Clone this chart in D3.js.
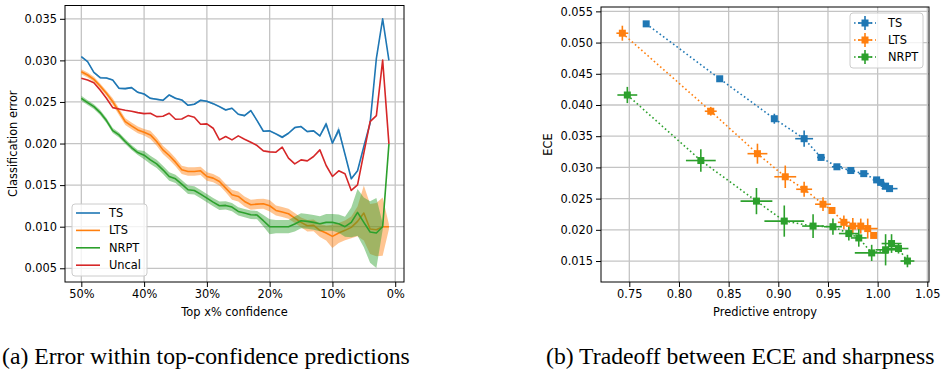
<!DOCTYPE html>
<html>
<head>
<meta charset="utf-8">
<script src="https://cdn.jsdelivr.net/npm/d3@7"></script>
<style>
  body { margin: 0; background: #fff; }
  text { font-family: "DejaVu Sans", sans-serif; }
</style>
</head>
<body>
<div class="canvas"></div>
<script>
// ---- data: (a) error within top-confidence predictions ----
const topPct = [50, 49, 48, 47, 46, 45, 44, 43, 42, 41, 40, 39, 38, 37, 36, 35, 34, 33, 32, 31,
    30, 29, 28, 27, 26, 25, 24, 23, 22, 21, 20, 19, 18, 17, 16, 15, 14, 13, 12, 11,
    10, 9, 8, 7, 6, 5, 4, 3, 2, 1];

const tsErr = [0.03044, 0.02984, 0.02856, 0.02792, 0.02788, 0.02764, 0.02664, 0.0266, 0.02672, 0.02616,
    0.02596, 0.02544, 0.02532, 0.0252, 0.02584, 0.02544, 0.02524, 0.0246, 0.02472, 0.0252,
    0.02508, 0.0248, 0.02444, 0.02404, 0.02424, 0.02352, 0.02336, 0.02396, 0.02276, 0.02148,
    0.02152, 0.02116, 0.02076, 0.02124, 0.02192, 0.02204, 0.02144, 0.02152, 0.02092, 0.02236,
    0.02004, 0.02164, 0.01872, 0.01576, 0.01672, 0.01964, 0.02244, 0.03024, 0.035, 0.030];
const tsBand = [0.0001, 0.0001, 0.0001, 0.0001, 0.0001, 0.0001, 0.0001, 0.0001, 0.0001, 0.0001,
    0.0001, 0.0001, 0.0001, 0.0001, 0.0001, 0.0001, 0.0001, 0.0001, 0.0001, 0.0001,
    0.0001, 0.0001, 0.0001, 0.0001, 0.0001, 0.0001, 0.0001, 0.0001, 0.0001, 0.0001,
    0.0001, 0.0001, 0.00015, 0.0001, 0.0001, 0.0001, 0.0001, 0.0001, 0.0001, 0.0003,
    0.0001, 0.0004, 0.0001, 0.0001, 0.0001, 0.0001, 0.0001, 0.0001, 0.0001, 0.0001];

const ltsErr = [0.02864, 0.02824, 0.02772, 0.02692, 0.02604, 0.02504, 0.02384, 0.02264, 0.02212, 0.02164,
    0.02136, 0.02104, 0.02024, 0.01924, 0.01856, 0.01776, 0.01684, 0.01664, 0.01664, 0.01672,
    0.01604, 0.01584, 0.01544, 0.01464, 0.01384, 0.01364, 0.01304, 0.01264, 0.01272, 0.01276,
    0.01252, 0.01196, 0.01176, 0.01156, 0.01104, 0.01052, 0.01012, 0.01016, 0.00956, 0.00924,
    0.00884, 0.00924, 0.00956, 0.00992, 0.01064, 0.01164, 0.00972, 0.00964, 0.010, 0.010];
const ltsBand = [0.0003, 0.0003, 0.0003, 0.0003, 0.0003, 0.0004, 0.0004, 0.0004, 0.0004, 0.0004,
    0.0004, 0.0005, 0.0005, 0.0005, 0.0005, 0.0005, 0.0005, 0.0005, 0.0005, 0.0005,
    0.0005, 0.0005, 0.0005, 0.0005, 0.0006, 0.0006, 0.0006, 0.0006, 0.0006, 0.0006,
    0.0007, 0.0006, 0.0006, 0.0006, 0.0006, 0.0006, 0.0007, 0.0007, 0.0008, 0.0009,
    0.0014, 0.0012, 0.0012, 0.0013, 0.0018, 0.0033, 0.0030, 0.0032, 0.0035, 0.0003];

const nrptErr = [0.02544, 0.02492, 0.02444, 0.02372, 0.02276, 0.02156, 0.02104, 0.02024, 0.01952, 0.01892,
    0.0186, 0.01804, 0.01756, 0.01684, 0.01604, 0.01576, 0.01512, 0.01444, 0.01436, 0.01392,
    0.01344, 0.01296, 0.01252, 0.01256, 0.01236, 0.01184, 0.01164, 0.01144, 0.0114, 0.01072,
    0.010, 0.010, 0.010, 0.010, 0.01032, 0.01072, 0.01064, 0.01052, 0.01036, 0.01052,
    0.01052, 0.01036, 0.010, 0.01052, 0.01172, 0.01052, 0.00936, 0.00924, 0.010, 0.01996];
const nrptBand = [0.0003, 0.0003, 0.0003, 0.0003, 0.0003, 0.0003, 0.0003, 0.0003, 0.0003, 0.0003,
    0.0005, 0.0005, 0.0005, 0.0005, 0.0005, 0.0005, 0.0005, 0.0005, 0.0005, 0.0005,
    0.0005, 0.0005, 0.0005, 0.0005, 0.0005, 0.0005, 0.0005, 0.0005, 0.0005, 0.0007,
    0.0009, 0.0008, 0.0008, 0.0008, 0.0009, 0.0009, 0.0009, 0.0009, 0.0009, 0.001,
    0.001, 0.0011, 0.0012, 0.0018, 0.0028, 0.003, 0.0037, 0.0042, 0.0004, 0.0];

const uncalErr = [0.02784, 0.02764, 0.02732, 0.02644, 0.02544, 0.02432, 0.02416, 0.024, 0.02388, 0.02372,
    0.0236, 0.02364, 0.02324, 0.02328, 0.02364, 0.02292, 0.02296, 0.02336, 0.02316, 0.02232,
    0.02236, 0.02184, 0.02044, 0.02084, 0.02044, 0.02092, 0.02052, 0.02016, 0.01976, 0.01912,
    0.019, 0.01896, 0.01956, 0.01824, 0.01756, 0.01804, 0.01792, 0.01844, 0.01924, 0.01736,
    0.01604, 0.01672, 0.01636, 0.01436, 0.01504, 0.01884, 0.02264, 0.02336, 0.03004, 0.01996];

const leftYTicks = [0.005, 0.010, 0.015, 0.020, 0.025, 0.030, 0.035];
const leftXTicks = [50, 40, 30, 20, 10, 0];

// ---- data: (b) tradeoff between ECE and sharpness ----
const tsEnt = [0.767, 0.841, 0.896, 0.926, 0.943, 0.959, 0.973, 0.986, 0.999, 1.003, 1.008, 1.012];
const tsEce = [0.0530, 0.0442, 0.0378, 0.0346, 0.0316, 0.0301, 0.0295, 0.0290, 0.0280, 0.0276, 0.0270, 0.0266];
const tsEntSd = [0.002, 0.002, 0.003, 0.009, 0.004, 0.005, 0.004, 0.005, 0.004, 0.004, 0.005, 0.008];
const tsEceSd = [0.0002, 0.0003, 0.0008, 0.0013, 0.0005, 0.0004, 0.0003, 0.0003, 0.0003, 0.0003, 0.0003, 0.0003];

const ltsEnt = [0.743, 0.832, 0.879, 0.907, 0.926, 0.945, 0.954, 0.966, 0.975, 0.983, 0.990, 0.996];
const ltsEce = [0.0515, 0.0390, 0.0322, 0.0285, 0.0265, 0.0241, 0.0231, 0.0212, 0.0206, 0.0206, 0.0202, 0.0191];
const ltsEntSd = [0.006, 0.006, 0.010, 0.011, 0.008, 0.008, 0.003, 0.006, 0.007, 0.007, 0.010, 0.003];
const ltsEceSd = [0.0012, 0.0007, 0.0016, 0.0018, 0.0012, 0.0011, 0.0003, 0.0011, 0.0013, 0.0012, 0.0016, 0.0003];

const nrptEnt = [0.748, 0.822, 0.878, 0.906, 0.935, 0.955, 0.971, 0.981, 0.994, 1.008, 1.014, 1.021, 1.030];
const nrptEce = [0.0416, 0.0311, 0.0246, 0.0214, 0.0206, 0.0205, 0.0194, 0.0187, 0.0163, 0.0168, 0.0178, 0.0170, 0.0150];
const nrptEntSd = [0.010, 0.015, 0.016, 0.020, 0.011, 0.009, 0.010, 0.008, 0.017, 0.010, 0.010, 0.010, 0.007];
const nrptEceSd = [0.0013, 0.0018, 0.0021, 0.0025, 0.0019, 0.0013, 0.0011, 0.0014, 0.0013, 0.0025, 0.0015, 0.0008, 0.0010];

const rightXTicks = [0.75, 0.80, 0.85, 0.90, 0.95, 1.00, 1.05];
const rightYTicks = [0.015, 0.020, 0.025, 0.030, 0.035, 0.040, 0.045, 0.050, 0.055];

const blue = '#1f77b4', orange = '#ff7f0e', green = '#2ca02c', red = '#d62728';
const fontSize = 11.4;

// ---- svg container ----
const svg = d3.select('.canvas')
    .append('svg')
    .attr('width', 941)
    .attr('height', 371)
    .style('display', 'block');

svg.append('rect').attr('width', 941).attr('height', 371).attr('fill', '#fff');

// draws grid, ticks, frame for one panel
function drawAxes(x, y, xTicks, yTicks, xFmt, yFmt) {
    const [x0, x1] = x.range();
    const [y0, y1] = y.range();

    const grid = svg.append('g');
    grid.selectAll('.gx').data(xTicks).enter().append('line')
        .attr('x1', d => x(d)).attr('x2', d => x(d))
        .attr('y1', y1).attr('y2', y0)
        .attr('stroke', '#c4c4c4').attr('stroke-width', 1.3);
    grid.selectAll('.gy').data(yTicks).enter().append('line')
        .attr('x1', x0).attr('x2', x1)
        .attr('y1', d => y(d)).attr('y2', d => y(d))
        .attr('stroke', '#c4c4c4').attr('stroke-width', 1.3);

    const xAxis = d3.axisBottom(x).tickValues(xTicks).tickFormat(xFmt).tickSize(5).tickPadding(3);
    const yAxis = d3.axisLeft(y).tickValues(yTicks).tickFormat(yFmt).tickSize(5).tickPadding(3);

    const gx = svg.append('g').attr('transform', `translate(0, ${y0})`).call(xAxis);
    const gy = svg.append('g').attr('transform', `translate(${x0}, 0)`).call(yAxis);
    [gx, gy].forEach(g => {
        g.select('.domain').remove();
        g.selectAll('line').attr('stroke', '#000').attr('stroke-width', 1);
        g.selectAll('text')
            .style('font-family', '"DejaVu Sans", sans-serif')
            .style('font-size', fontSize + 'px')
            .attr('fill', '#000');
    });
}

function drawFrame(x, y) {
    const [x0, x1] = x.range();
    const [y0, y1] = y.range();
    svg.append('rect')
        .attr('x', x0).attr('y', y1)
        .attr('width', x1 - x0).attr('height', y0 - y1)
        .attr('fill', 'none').attr('stroke', '#000').attr('stroke-width', 1);
}

// ================= panel (a) =================
const xL = d3.scaleLinear().domain([52.6, -1.4]).range([65, 404]);
const yL = d3.scaleLinear().domain([0.00335, 0.0366]).range([282, 5.5]);

drawAxes(xL, yL, leftXTicks, leftYTicks, d => d + '%', d3.format('.3f'));

const clipL = svg.append('clipPath').attr('id', 'clipL')
    .append('rect').attr('x', 65).attr('y', 5.5).attr('width', 339).attr('height', 276.5);

const plotL = svg.append('g').attr('clip-path', 'url(#clipL)');

const seriesL = [
    { name: 'TS', vals: tsErr, band: tsBand, color: blue },
    { name: 'LTS', vals: ltsErr, band: ltsBand, color: orange },
    { name: 'NRPT', vals: nrptErr, band: nrptBand, color: green },
    { name: 'Uncal', vals: uncalErr, band: null, color: red }
];

const lineL = d3.line().x(d => xL(d[0])).y(d => yL(d[1]));
const areaL = d3.area().x(d => xL(d[0])).y0(d => yL(d[1] - d[2])).y1(d => yL(d[1] + d[2]));

seriesL.forEach(s => {
    const pts = topPct.map((p, i) => [p, s.vals[i], s.band ? s.band[i] : 0]);
    if (s.band) {
        plotL.append('path').datum(pts)
            .attr('d', areaL)
            .attr('fill', s.color).attr('fill-opacity', 0.45).attr('stroke', 'none');
    }
    plotL.append('path').datum(pts)
        .attr('d', lineL)
        .attr('fill', 'none').attr('stroke', s.color).attr('stroke-width', 1.6)
        .attr('stroke-linejoin', 'round');
});

drawFrame(xL, yL);

svg.append('text')
    .attr('x', (65 + 404) / 2).attr('y', 316)
    .attr('text-anchor', 'middle')
    .style('font-size', fontSize + 'px')
    .text('Top x% confidence');

svg.append('text')
    .attr('transform', `translate(17, ${(5.5 + 282) / 2}) rotate(-90)`)
    .attr('text-anchor', 'middle')
    .style('font-size', fontSize + 'px')
    .text('Classification error');

// legend (a)
const legL = svg.append('g').attr('transform', 'translate(72, 204)');
legL.append('rect')
    .attr('width', 75).attr('height', 72).attr('rx', 3)
    .attr('fill', '#fff').attr('fill-opacity', 0.8)
    .attr('stroke', '#ccc').attr('stroke-width', 1);
seriesL.forEach((s, i) => {
    const yy = 9 + i * 17.4;
    legL.append('line').attr('x1', 4).attr('x2', 28).attr('y1', yy).attr('y2', yy)
        .attr('stroke', s.color).attr('stroke-width', 1.6);
    legL.append('text').attr('x', 37).attr('y', yy + 4)
        .style('font-size', fontSize + 'px').text(s.name);
});

// ================= panel (b) =================
const xR = d3.scaleLinear().domain([0.7215, 1.0517]).range([601, 929]);
const yR = d3.scaleLinear().domain([0.01164, 0.0557]).range([282, 7]);

drawAxes(xR, yR, rightXTicks, rightYTicks, d3.format('.2f'), d3.format('.3f'));

svg.append('clipPath').attr('id', 'clipR')
    .append('rect').attr('x', 601).attr('y', 7).attr('width', 328).attr('height', 275);
const plotR = svg.append('g').attr('clip-path', 'url(#clipR)');

const seriesR = [
    { name: 'TS', ent: tsEnt, ece: tsEce, entSd: tsEntSd, eceSd: tsEceSd, color: blue },
    { name: 'LTS', ent: ltsEnt, ece: ltsEce, entSd: ltsEntSd, eceSd: ltsEceSd, color: orange },
    { name: 'NRPT', ent: nrptEnt, ece: nrptEce, entSd: nrptEntSd, eceSd: nrptEceSd, color: green }
];

const lineR = d3.line().x(d => xR(d.ent)).y(d => yR(d.ece));
const ms = 7;

seriesR.forEach(s => {
    const pts = s.ent.map((e, i) => ({ ent: e, ece: s.ece[i], es: s.entSd[i], cs: s.eceSd[i] }));
    const g = plotR.append('g');

    g.append('path').datum(pts)
        .attr('d', lineR)
        .attr('fill', 'none').attr('stroke', s.color)
        .attr('stroke-width', 1.6).attr('stroke-dasharray', '1.6,2.6');

    g.selectAll('.eh').data(pts).enter().append('line')
        .attr('x1', d => xR(d.ent - d.es)).attr('x2', d => xR(d.ent + d.es))
        .attr('y1', d => yR(d.ece)).attr('y2', d => yR(d.ece))
        .attr('stroke', s.color).attr('stroke-width', 1.6);
    g.selectAll('.ev').data(pts).enter().append('line')
        .attr('x1', d => xR(d.ent)).attr('x2', d => xR(d.ent))
        .attr('y1', d => yR(d.ece - d.cs)).attr('y2', d => yR(d.ece + d.cs))
        .attr('stroke', s.color).attr('stroke-width', 1.6);

    g.selectAll('.mk').data(pts).enter().append('rect')
        .attr('x', d => xR(d.ent) - ms / 2).attr('y', d => yR(d.ece) - ms / 2)
        .attr('width', ms).attr('height', ms)
        .attr('fill', s.color);
});

drawFrame(xR, yR);

svg.append('text')
    .attr('x', (601 + 929) / 2).attr('y', 316)
    .attr('text-anchor', 'middle')
    .style('font-size', fontSize + 'px')
    .text('Predictive entropy');

svg.append('text')
    .attr('transform', `translate(552, ${(7 + 282) / 2}) rotate(-90)`)
    .attr('text-anchor', 'middle')
    .style('font-size', fontSize + 'px')
    .text('ECE');

// legend (b)
const legR = svg.append('g').attr('transform', 'translate(850, 13)');
legR.append('rect')
    .attr('width', 73).attr('height', 55).attr('rx', 3)
    .attr('fill', '#fff').attr('fill-opacity', 0.8)
    .attr('stroke', '#ccc').attr('stroke-width', 1);
seriesR.forEach((s, i) => {
    const yy = 10 + i * 17;
    legR.append('line').attr('x1', 4).attr('x2', 26).attr('y1', yy).attr('y2', yy)
        .attr('stroke', s.color).attr('stroke-width', 1.6).attr('stroke-dasharray', '1.6,2.6');
    legR.append('line').attr('x1', 8).attr('x2', 22).attr('y1', yy).attr('y2', yy)
        .attr('stroke', s.color).attr('stroke-width', 1.6);
    legR.append('line').attr('x1', 15).attr('x2', 15).attr('y1', yy - 7).attr('y2', yy + 7)
        .attr('stroke', s.color).attr('stroke-width', 1.6);
    legR.append('rect').attr('x', 15 - ms / 2).attr('y', yy - ms / 2)
        .attr('width', ms).attr('height', ms).attr('fill', s.color);
    legR.append('text').attr('x', 38).attr('y', yy + 4)
        .style('font-size', fontSize + 'px').text(s.name);
});

// ---- captions ----
svg.append('text')
    .attr('x', 2).attr('y', 364)
    .style('font-family', '"Liberation Serif", serif')
    .style('font-size', '23.7px')
    .text('(a) Error within top-confidence predictions');

svg.append('text')
    .attr('x', 546).attr('y', 364)
    .style('font-family', '"Liberation Serif", serif')
    .style('font-size', '23.7px')
    .text('(b) Tradeoff between ECE and sharpness');
</script>
</body>
</html>
